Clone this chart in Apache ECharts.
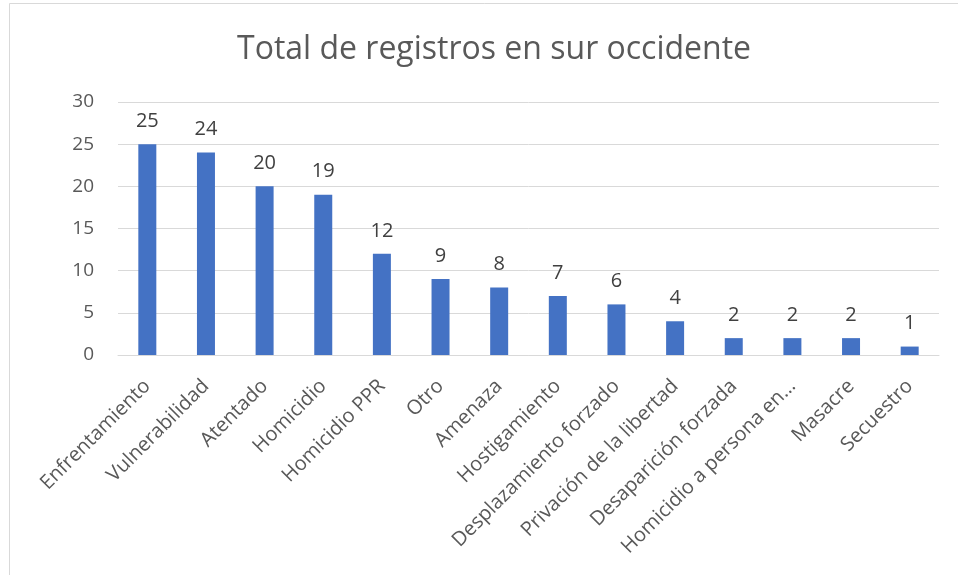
<!DOCTYPE html>
<html>
<head>
<meta charset="utf-8">
<script src="https://cdn.jsdelivr.net/npm/echarts@6/dist/echarts.min.js"></script>
<style>html,body{margin:0;padding:0;background:#fff}#c{width:958px;height:575px}</style>
</head>
<body>
<div id="c"></div>
<script>
const categories = ["Enfrentamiento","Vulnerabilidad","Atentado","Homicidio","Homicidio PPR","Otro","Amenaza","Hostigamiento","Desplazamiento forzado","Privación de la libertad","Desaparición forzada","Homicidio a persona en…","Masacre","Secuestro"];
const values = [25,24,20,19,12,9,8,7,6,4,2,2,2,1];
const yTicks = {min:0, max:30, interval:5};
const titleText = "Total de registros en sur occidente";

const chart = echarts.init(document.getElementById('c'), null, {renderer:'canvas'});
chart.setOption({
  animation:false,
  backgroundColor:'#fff',
  title:{text:titleText,left:232,top:29,textStyle:{fontFamily:'Open Sans',fontWeight:'normal',fontSize:32,color:'#595959'}},
  grid:{left:118,right:19,top:102,bottom:220,containLabel:false},
  graphic:[{type:'rect',shape:{x:9.5,y:3.5,width:1000,height:1000},style:{fill:'none',stroke:'#d9d9d9',lineWidth:1},silent:true,z:-1}],
  xAxis:{type:'category',data:categories,
    axisLine:{lineStyle:{color:'#d9d9d9',width:1}},axisTick:{show:false},
    axisLabel:{interval:0,rotate:45,margin:28,fontFamily:'Open Sans',fontSize:20,color:'#595959'}},
  yAxis:{type:'value',min:yTicks.min,max:yTicks.max,interval:yTicks.interval,
    axisLine:{show:false},axisTick:{show:false},
    splitLine:{lineStyle:{color:'#d9d9d9',width:1}},
    axisLabel:{margin:24,fontFamily:'Open Sans',fontSize:19,color:'#595959'}},
  series:[{type:'bar',data:values,barWidth:18,itemStyle:{color:'#4472C4'},
    label:{show:true,position:'top',distance:13,fontFamily:'Open Sans',fontSize:20,color:'#404040'}}]
});
</script>
</body>
</html>
